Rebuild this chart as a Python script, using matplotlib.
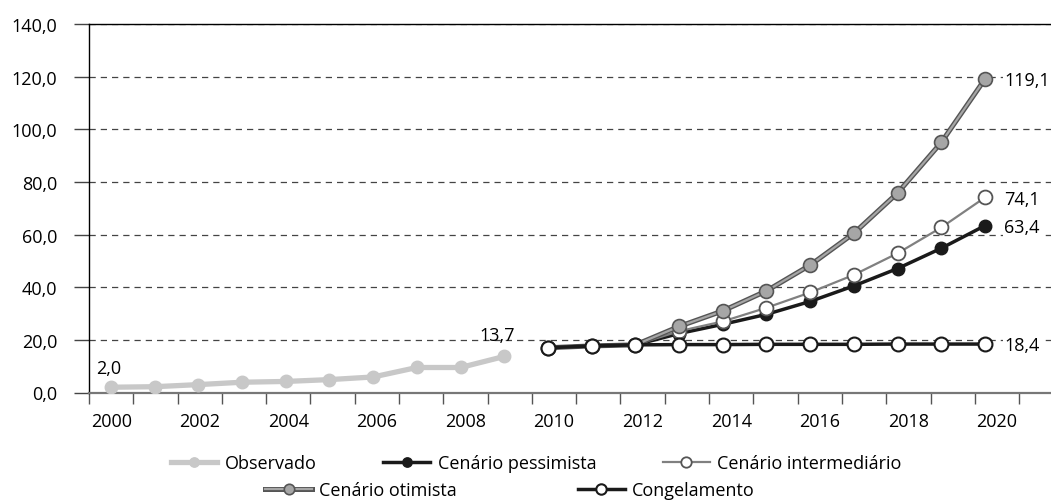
import matplotlib
matplotlib.use('Agg')
import matplotlib.pyplot as plt
from matplotlib.legend_handler import HandlerTuple

plt.rcParams['font.family'] = ['Open Sans', 'DejaVu Sans']

# dados
anos = list(range(2000, 2021))
anos_obs = anos[:10]
anos_proj = anos[10:]
observado = [2.0, 2.2, 3.0, 3.9, 4.2, 4.9, 5.9, 9.5, 9.5, 13.7]
pessimista = [17.0, 17.7, 18.1, 22.4, 25.9, 29.7, 34.6, 40.5, 47.1, 54.8, 63.4]
intermediario = [17.0, 17.7, 18.1, 23.3, 27.0, 32.2, 38.0, 44.7, 52.9, 62.7, 74.1]
otimista = [17.0, 17.7, 18.1, 25.1, 31.0, 38.6, 48.4, 60.5, 75.8, 95.0, 119.1]
congelamento = [17.0, 17.7, 18.1, 18.2, 18.2, 18.3, 18.3, 18.3, 18.4, 18.4, 18.4]

y_ticks = [0, 20, 40, 60, 80, 100, 120, 140]
y_labels = ['0,0', '20,0', '40,0', '60,0', '80,0', '100,0', '120,0', '140,0']
x_labels = [str(a) for a in anos[::2]]


def fmt(v):
    return f'{v:.1f}'.replace('.', ',')


x_obs = [a - 2000 for a in anos_obs]
x_proj = [a - 2000 for a in anos_proj]

W, H = 1051, 502
fig = plt.figure(figsize=(W / 100, H / 100), dpi=100)
# o gráfico original está cortado à direita, então o eixo passa da borda
ax = fig.add_axes([89 / W, 108.5 / H, 1011 / W, 368.5 / H])

# escala: pontos a 43.7 px, divisões das categorias a 44.29 px
x0 = -0.503
step = 44.29 / 43.7
ax.set_xlim(x0, (1100 - 111) / 43.7)
ax.set_ylim(0, 140)

h_obs, = ax.plot(x_obs, observado, color='#c8c8c8', lw=3.8, marker='o', ms=9,
                 mfc='#c8c8c8', mec='#c8c8c8', zorder=3)
h_pess, = ax.plot(x_proj, pessimista, color='#1a1a1a', lw=2.5, marker='o', ms=9,
                  mfc='#1a1a1a', mec='#1a1a1a', zorder=4)
h_inter, = ax.plot(x_proj, intermediario, color='#808080', lw=1.6, marker='o', ms=10,
                   mfc='white', mec='#555555', mew=1.3, zorder=4.2)
h_ot1, = ax.plot(x_proj, otimista, color='#555555', lw=3.6, zorder=4.4)
h_ot2, = ax.plot(x_proj, otimista, color='#a6a6a6', lw=1.6, marker='o', ms=10,
                 mfc='#a6a6a6', mec='#555555', mew=1.2, zorder=4.4)
h_cong, = ax.plot(x_proj, congelamento, color='#1a1a1a', lw=2.5, marker='o', ms=10,
                  mfc='white', mec='#1a1a1a', mew=1.5, zorder=5)

# rótulos de dados
ax.annotate(fmt(observado[0]), (x_obs[0], observado[0]), xytext=(-2, 10),
            textcoords='offset points', ha='center', va='baseline', fontsize=13)
ax.annotate(fmt(observado[-1]), (x_obs[-1], observado[-1]), xytext=(-5, 12),
            textcoords='offset points', ha='center', va='baseline', fontsize=13)
for serie in [otimista, intermediario, pessimista, congelamento]:
    ax.annotate(fmt(serie[-1]), (x_proj[-1], serie[-1]), xytext=(14, -1),
                textcoords='offset points', ha='left', va='center', fontsize=13,
                bbox=dict(fc='white', ec='none', pad=1))

# eixos
ax.set_yticks(y_ticks, y_labels)
ax.tick_params(axis='y', length=11, width=1, color='#444444', pad=12, labelsize=13)
centers = [x0 + step * (k + 0.5) for k in range(0, 21, 2)]
bounds = [x0 + step * k for k in range(23)]
ax.set_xticks(centers, x_labels)
ax.set_xticks(bounds, minor=True)
ax.tick_params(axis='x', which='major', length=0, pad=14, labelsize=13)
ax.tick_params(axis='x', which='minor', length=8, width=1, color='#555555')

ax.yaxis.grid(True, linestyle=(0, (5, 4)), color='#444444', lw=0.9)
ax.set_axisbelow(True)
ax.spines['right'].set_visible(False)
ax.spines['top'].set_color('black')
ax.spines['top'].set_linewidth(1)
ax.spines['left'].set_color('black')
ax.spines['left'].set_linewidth(1)
ax.spines['bottom'].set_color('#777777')
ax.spines['bottom'].set_linewidth(1.6)

# legenda em duas linhas
leg_kw = dict(loc='center', frameon=False, fontsize=13, handlelength=2.6,
              handletextpad=0.4, markerscale=0.75, borderpad=0)
fig.legend([h_obs, h_pess, h_inter],
           ['Observado', 'Cenário pessimista', 'Cenário intermediário'],
           ncol=3, columnspacing=3.7, bbox_to_anchor=(536 / W, 1 - 464 / H), **leg_kw)
fig.legend([(h_ot1, h_ot2), h_cong], ['Cenário otimista', 'Congelamento'],
           ncol=2, columnspacing=6.7, bbox_to_anchor=(510 / W, 1 - 491 / H),
           handler_map={tuple: HandlerTuple(ndivide=1, pad=0)}, **leg_kw)

fig.savefig('out.png', dpi=100)
